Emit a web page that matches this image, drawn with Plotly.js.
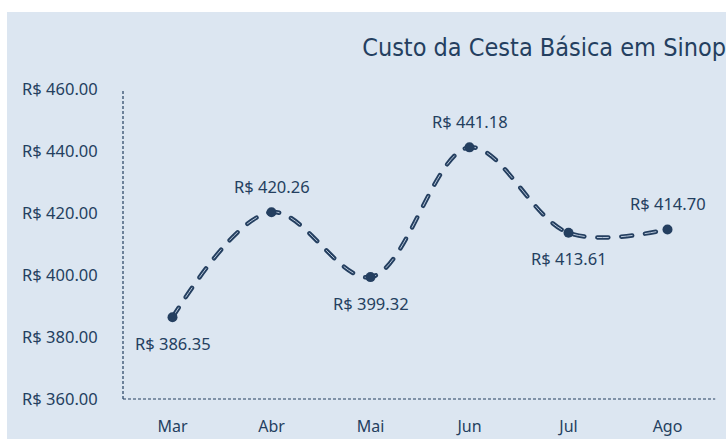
<!DOCTYPE html>
<html>
<head>
<meta charset="utf-8">
<script src="https://cdn.plot.ly/plotly-3.0.1.min.js"></script>
<style>
html,body{margin:0;padding:0;background:#ffffff;}
#chart{position:absolute;left:7px;top:12px;width:719px;height:427px;}
.js-line{stroke-linecap:round;}
</style>
</head>
<body>
<div id="chart"></div>
<script>
const months = ["Mar", "Abr", "Mai", "Jun", "Jul", "Ago"];
const cost = [386.35, 420.26, 399.32, 441.18, 413.61, 414.70];
const yTicks = [360, 380, 400, 420, 440, 460];
const labelSide = [-1, 1, -1, 1, -1, 1];

const navy = "#243f60";
const bg = "#dce6f1";
const fontFam = "'Noto Sans', 'Open Sans', sans-serif";

const fmt = v => "R$ " + v.toFixed(2);

const traces = [
  {
    x: months, y: cost, type: "scatter", mode: "lines",
    line: {shape: "spline", smoothing: 1, color: navy, width: 4.5, dash: "11px,13px"},
    hoverinfo: "skip"
  },
  {
    x: months, y: cost, type: "scatter", mode: "lines",
    line: {shape: "spline", smoothing: 1, color: "#b8c7da", width: 1, dash: "11px,13px"},
    hoverinfo: "skip"
  },
  {
    x: months, y: cost, type: "scatter", mode: "markers",
    marker: {color: navy, size: 10},
    hoverinfo: "skip"
  }
];

const annotations = months.map((m, i) => ({
  x: m, y: cost[i], xref: "x", yref: "y",
  text: fmt(cost[i]), showarrow: false,
  yshift: labelSide[i] * 26,
  font: {family: fontFam, size: 16.5, color: navy}
}));

const layout = {
  width: 719, height: 427,
  paper_bgcolor: bg, plot_bgcolor: bg,
  margin: {l: 116, r: 9, t: 77, b: 40},
  showlegend: false,
  title: {
    text: "Custo da Cesta Básica em Sinop",
    xref: "container", x: 1.0, xanchor: "right",
    yref: "container", y: 1 - 35/427, yanchor: "middle",
    font: {family: "'DejaVu Sans Condensed', 'Liberation Sans Narrow', sans-serif", size: 25, color: navy}
  },
  xaxis: {
    type: "category", range: [-0.5, 5.5],
    showgrid: false, zeroline: false, showline: false,
    ticks: "outside", ticklen: 13, tickcolor: "rgba(0,0,0,0)",
    tickfont: {family: fontFam, size: 16, color: navy}
  },
  yaxis: {
    range: [360, 460], tickvals: yTicks, ticktext: yTicks.map(fmt),
    showgrid: false, zeroline: false, showline: false,
    ticks: "outside", ticklen: 21, tickcolor: "rgba(0,0,0,0)",
    tickfont: {family: fontFam, size: 16.5, color: navy}
  },
  shapes: [
    {type: "line", xref: "paper", yref: "paper", x0: 0, x1: 0, y0: 0, y1: 1,
     line: {color: navy, width: 1.2, dash: "3px,2px"}},
    {type: "line", xref: "paper", yref: "paper", x0: 0, x1: 0.997, y0: 0, y1: 0,
     line: {color: navy, width: 1.2, dash: "3px,2px"}}
  ],
  annotations: annotations
};

Plotly.newPlot("chart", traces, layout, {displayModeBar: false, staticPlot: true});
</script>
</body>
</html>
